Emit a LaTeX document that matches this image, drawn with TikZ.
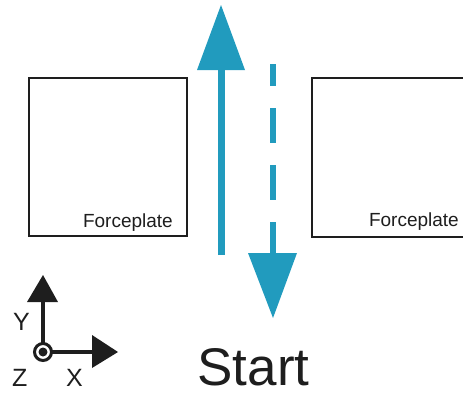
\documentclass[tikz,border=0pt]{standalone}
\usepackage{fontspec}
\setmainfont{Liberation Sans}
\definecolor{arrowblue}{RGB}{33,155,190}
\definecolor{ink}{RGB}{30,30,30}
\begin{document}
\begin{tikzpicture}[x=1pt,y=-1pt,
  plate/.style={draw=ink,line width=1.5pt},
  platelabel/.style={inner sep=0pt,anchor=base east,text=ink,font=\fontsize{19}{19}\selectfont},
  axislabel/.style={inner sep=0pt,anchor=base west,text=ink,font=\fontsize{25}{25}\selectfont},
  blueshaft/.style={draw=arrowblue,line width=7pt},
  bluehead/.style={fill=arrowblue},
  axisshaft/.style={draw=ink,line width=3.5pt},
  axishead/.style={fill=ink}]
\useasboundingbox (0,0) rectangle (463,392);
% force plates
\draw[plate] (29,78) rectangle (187,236);
\draw[plate] (312,78) rectangle (490,237);
\node[platelabel] (lbl1) at (173,227) {Forceplate};
\node[platelabel] (lbl2) at (459,226) {Forceplate};
% solid up arrow
\coordinate (upbot) at (221,255);
\coordinate (uptip) at (221,5);
\draw[blueshaft] (upbot) -- (221,68);
\fill[bluehead] (uptip) -- (197,70) -- (245,70) -- cycle;
% dashed down arrow
\coordinate (dntop) at (273,64);
\coordinate (dntip) at (273,318);
\draw[blueshaft,line width=6pt,dash pattern=on 35pt off 22pt,dash phase=13pt] (dntop) -- (273,256);
\fill[bluehead] (dntip) -- (248,253) -- (297,253) -- cycle;
% start
\node[inner sep=0pt,anchor=base,text depth=0pt,text=ink,font=\fontsize{53}{53}\selectfont] (start) at (253.5,385) {Start};
% axes
\coordinate (origin) at (43,352);
\draw[axisshaft] (origin) -- (43,301);
\fill[axishead] (43,275) -- (27,302) -- (58,302) -- cycle;
\draw[axisshaft] (origin) -- (93,352);
\fill[axishead] (118,352) -- (92,335) -- (92,368) -- cycle;
\draw[draw=ink,line width=3pt,fill=white] (origin) circle (8.5pt);
\fill[ink] (origin) circle (4.5pt);
\node[axislabel] (ylbl) at (13,330) {Y};
\node[axislabel] (zlbl) at (12,386) {Z};
\node[axislabel] (xlbl) at (66,386) {X};
\end{tikzpicture}
\end{document}
